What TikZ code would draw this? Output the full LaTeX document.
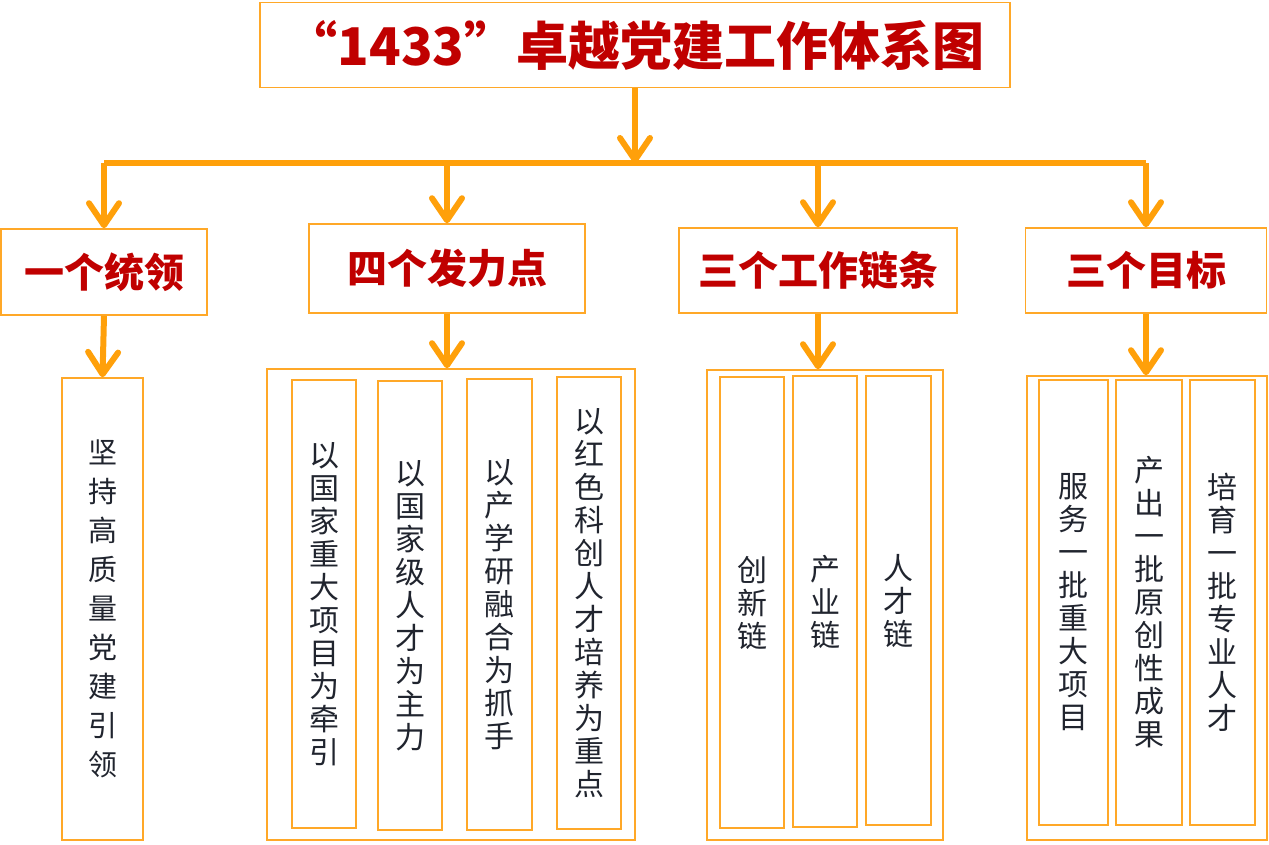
\documentclass[tikz,border=0pt]{standalone}
\usepackage{fontspec}
\setmainfont{Noto Sans CJK SC}
\usetikzlibrary{arrows.meta}
\definecolor{flowc}{RGB}{255,160,10}
\definecolor{framec}{RGB}{255,168,40}
\definecolor{titlec}{RGB}{192,0,0}
\definecolor{textc}{RGB}{32,36,46}
\tikzset{
  box/.style={draw=framec,line width=1.6pt,rectangle,inner sep=0pt},
  head/.style={box,text=titlec,font=\fontsize{40}{44}\selectfont\bfseries},
  col/.style={box,text=textc,align=center,font=\fontsize{30}{33}\selectfont},
  flow/.style={draw=flowc,line width=6pt,-{Straight Barb[length=22pt,width=30pt,round]}}
}
\begin{document}
\begin{tikzpicture}[x=1pt,y=-1pt]
\useasboundingbox (0,0) rectangle (1269,844);
\node[box,minimum width=750,minimum height=85,text=titlec,font=\fontsize{52}{56}\selectfont\bfseries] (title) at (635,45) {“1433”卓越党建工作体系图};
\node[head,minimum width=206,minimum height=86] (lead) at (104,272) {一个统领};
\node[head,minimum width=276,minimum height=89] (points) at (447,268.5) {四个发力点};
\node[head,minimum width=278,minimum height=85] (chains) at (818,270.5) {三个工作链条};
\node[head,minimum width=241,minimum height=85] (goals) at (1146,270.5) {三个目标};
\coordinate (bus) at (0,163);
\draw[flow] (title.south) -- (title.south |- bus);
\draw[draw=flowc,line width=6pt] (lead.north |- bus) -- (goals.north |- bus);
\draw[flow] (lead.north |- bus) -- (lead.north);
\draw[flow] (points.north |- bus) -- (points.north);
\draw[flow] (chains.north |- bus) -- (chains.north);
\draw[flow] (goals.north |- bus) -- (goals.north);
\node[col,minimum width=81,minimum height=462,font=\fontsize{29}{39}\selectfont] (leadcol) at (102.5,609) {坚\\持\\高\\质\\量\\党\\建\\引\\领};
\node[box,minimum width=368,minimum height=471] (pgrp) at (451,604.5) {};
\node[col,minimum width=64,minimum height=448] (p1) at (324,604) {以\\国\\家\\重\\大\\项\\目\\为\\牵\\引};
\node[col,minimum width=64,minimum height=449] (p2) at (410,605.5) {以\\国\\家\\级\\人\\才\\为\\主\\力};
\node[col,minimum width=65,minimum height=451] (p3) at (499.5,604.5) {以\\产\\学\\研\\融\\合\\为\\抓\\手};
\node[col,minimum width=64,minimum height=452] (p4) at (589,603) {以\\红\\色\\科\\创\\人\\才\\培\\养\\为\\重\\点};
\node[box,minimum width=236,minimum height=470] (cgrp) at (825,605) {};
\node[col,minimum width=64,minimum height=451] (c1) at (752,602.5) {创\\新\\链};
\node[col,minimum width=64,minimum height=451] (c2) at (825,601.5) {产\\业\\链};
\node[col,minimum width=65,minimum height=449] (c3) at (898.5,600.5) {人\\才\\链};
\node[box,minimum width=240,minimum height=464] (ggrp) at (1147,608) {};
\node[col,minimum width=69,minimum height=445] (g1) at (1073.5,602.5) {服\\务\\一\\批\\重\\大\\项\\目};
\node[col,minimum width=66,minimum height=445] (g2) at (1149,602.5) {产\\出\\一\\批\\原\\创\\性\\成\\果};
\node[col,minimum width=65,minimum height=445] (g3) at (1222.5,602.5) {培\\育\\一\\批\\专\\业\\人\\才};
\draw[flow] (lead.south) -- (leadcol.north);
\draw[flow] (points.south) -- (points.south |- pgrp.north);
\draw[flow] (chains.south) -- (chains.south |- cgrp.north);
\draw[flow] (goals.south) -- (goals.south |- ggrp.north);
\end{tikzpicture}
\end{document}
